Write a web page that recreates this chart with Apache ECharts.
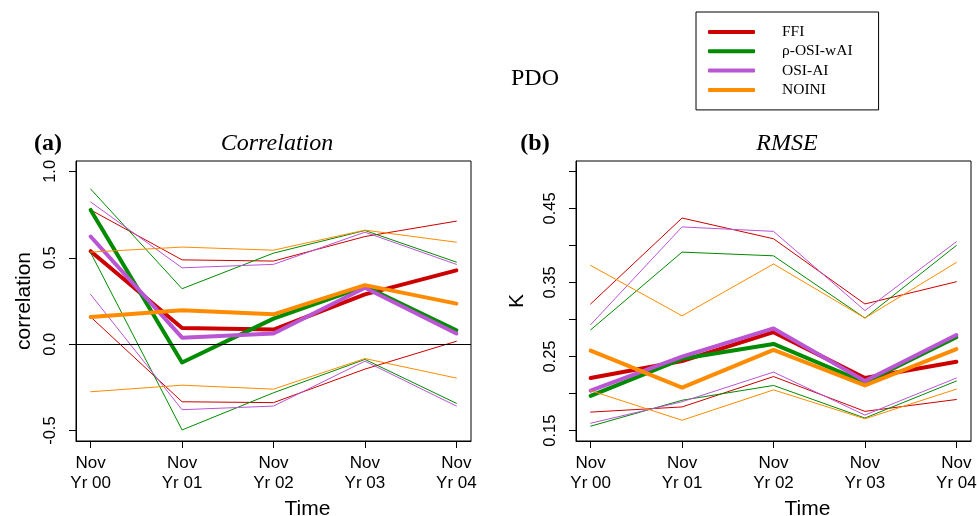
<!DOCTYPE html>
<html>
<head>
<meta charset="utf-8">
<script src="https://cdn.jsdelivr.net/npm/echarts@6/dist/echarts.min.js"></script>
<style>
html,body{margin:0;padding:0;background:#fff;}
#chart{width:977px;height:516px;}
</style>
</head>
<body>
<div id="chart"></div>
<script>
// ---------- data ----------
const categories = ['Nov\nYr 00', 'Nov\nYr 01', 'Nov\nYr 02', 'Nov\nYr 03', 'Nov\nYr 04'];
const modelNames = ['FFI', 'ρ-OSI-wAI', 'OSI-AI', 'NOINI'];
const corrTicks = [-0.5, 0, 0.5, 1.0];
const rmseTicks = [0.15, 0.20, 0.25, 0.30, 0.35, 0.40, 0.45, 0.50];
const rmseTickLabels = [0.15, 0.25, 0.35, 0.45];

// (a) Correlation
const corrFFI      = [0.538, 0.094, 0.085, 0.288, 0.427];
const corrFFIHi    = [0.777, 0.488, 0.481, 0.623, 0.712];
const corrFFILo    = [0.158, -0.333, -0.338, -0.144, 0.017];
const corrRho      = [0.777, -0.106, 0.148, 0.335, 0.081];
const corrRhoHi    = [0.898, 0.321, 0.527, 0.658, 0.475];
const corrRhoLo    = [0.530, -0.496, -0.281, -0.088, -0.342];
const corrOsi      = [0.623, 0.038, 0.062, 0.327, 0.062];
const corrOsiHi    = [0.823, 0.442, 0.462, 0.648, 0.462];
const corrOsiLo    = [0.288, -0.379, -0.358, -0.098, -0.358];
const corrNoini    = [0.158, 0.196, 0.173, 0.342, 0.235];
const corrNoiniHi  = [0.533, 0.562, 0.544, 0.660, 0.590];
const corrNoiniLo  = [-0.275, -0.237, -0.260, -0.083, -0.196];

// (b) RMSE
const rmseFFI      = [0.221, 0.244, 0.283, 0.221, 0.243];
const rmseFFIHi    = [0.321, 0.437, 0.409, 0.321, 0.351];
const rmseFFILo    = [0.175, 0.182, 0.223, 0.176, 0.192];
const rmseRho      = [0.197, 0.247, 0.267, 0.215, 0.276];
const rmseRhoHi    = [0.286, 0.391, 0.386, 0.302, 0.400];
const rmseRhoLo    = [0.156, 0.191, 0.211, 0.167, 0.217];
const rmseOsi      = [0.204, 0.250, 0.288, 0.217, 0.279];
const rmseOsiHi    = [0.293, 0.425, 0.419, 0.312, 0.405];
const rmseOsiLo    = [0.160, 0.189, 0.229, 0.171, 0.221];
const rmseNoini    = [0.258, 0.208, 0.259, 0.211, 0.260];
const rmseNoiniHi  = [0.373, 0.305, 0.375, 0.302, 0.377];
const rmseNoiniLo  = [0.204, 0.164, 0.205, 0.166, 0.206];

// ---------- styling ----------
const colors = ['#CD0000', '#008B00', '#BA55D3', '#FF8C00'];
const SANS = 'Liberation Sans';
const SERIF = 'Liberation Serif';

const corrSets = [
  [corrFFI, corrFFIHi, corrFFILo],
  [corrRho, corrRhoHi, corrRhoLo],
  [corrOsi, corrOsiHi, corrOsiLo],
  [corrNoini, corrNoiniHi, corrNoiniLo]
];
const rmseSets = [
  [rmseFFI, rmseFFIHi, rmseFFILo],
  [rmseRho, rmseRhoHi, rmseRhoLo],
  [rmseOsi, rmseOsiHi, rmseOsiLo],
  [rmseNoini, rmseNoiniHi, rmseNoiniLo]
];

function toPts(arr) { return arr.map((v, i) => [i, v]); }

const series = [];
function addPanel(sets, gi) {
  sets.forEach((trip, m) => {
    trip.forEach((arr, k) => {
      series.push({
        type: 'line',
        name: k === 0 ? modelNames[m] : modelNames[m] + (k === 1 ? ' upper' : ' lower') + gi,
        xAxisIndex: gi, yAxisIndex: gi,
        data: toPts(arr),
        symbol: 'none',
        silent: true,
        animation: false,
        z: 2 + m,
        itemStyle: { color: colors[m] },
        lineStyle: { color: colors[m], width: k === 0 ? 4 : 1, cap: 'round', join: 'round' }
      });
    });
  });
}
addPanel(corrSets, 0);
addPanel(rmseSets, 1);
// zero reference line in panel (a)
series.push({
  type: 'line', name: 'zero', xAxisIndex: 0, yAxisIndex: 0, data: [], symbol: 'none', z: 10,
  animation: false,
  markLine: { silent: true, symbol: 'none', label: { show: false }, animation: false,
    lineStyle: { color: '#000', width: 1, type: 'solid' }, data: [{ yAxis: 0 }] }
});

function xAxisDef(gi) {
  return {
    type: 'value', gridIndex: gi, min: -0.16, max: 4.16,
    axisLine: { show: true, onZero: false, lineStyle: { color: '#000', width: 1 } },
    axisTick: { show: true, length: 7, inside: false, customValues: [0, 1, 2, 3, 4], lineStyle: { color: '#000' } },
    axisLabel: { customValues: [0, 1, 2, 3, 4], formatter: v => categories[Math.round(v)],
      fontFamily: SANS, fontSize: 17, color: '#000', lineHeight: 20.5, margin: 12 },
    splitLine: { show: false },
    name: 'Time', nameLocation: 'middle', nameGap: 57,
    nameTextStyle: { fontFamily: SANS, fontSize: 21, color: '#000', padding: [0, 0, 0, 68] }
  };
}

const option = {
  backgroundColor: '#fff',
  animation: false,
  grid: [
    { left: 76, top: 161, width: 395, height: 280, show: true, borderColor: '#000', borderWidth: 1,
      backgroundColor: 'transparent', containLabel: false, outerBoundsMode: 'none' },
    { left: 576, top: 161, width: 395, height: 280, show: true, borderColor: '#000', borderWidth: 1,
      backgroundColor: 'transparent', containLabel: false, outerBoundsMode: 'none' }
  ],
  xAxis: [xAxisDef(0), xAxisDef(1)],
  yAxis: [
    {
      type: 'value', gridIndex: 0, min: -0.56, max: 1.06,
      axisLine: { show: true, onZero: false, lineStyle: { color: '#000' } },
      axisTick: { show: true, length: 7, customValues: corrTicks, lineStyle: { color: '#000' } },
      axisLabel: { customValues: corrTicks, formatter: v => v.toFixed(1), rotate: 90,
        fontFamily: SANS, fontSize: 16.5, color: '#000', margin: 17 },
      splitLine: { show: false },
      name: 'correlation', nameLocation: 'middle', nameGap: 41,
      nameTextStyle: { fontFamily: SANS, fontSize: 21, color: '#000' }
    },
    {
      type: 'value', gridIndex: 1, min: 0.136, max: 0.514,
      axisLine: { show: true, onZero: false, lineStyle: { color: '#000' } },
      axisTick: { show: true, length: 7, customValues: rmseTicks, lineStyle: { color: '#000' } },
      axisLabel: { customValues: rmseTickLabels, formatter: v => v.toFixed(2), rotate: 90,
        fontFamily: SANS, fontSize: 16.5, color: '#000', margin: 17 },
      splitLine: { show: false },
      name: 'K', nameLocation: 'middle', nameGap: 48,
      nameTextStyle: { fontFamily: SANS, fontSize: 21, color: '#000' }
    }
  ],
  legend: {
    data: modelNames,
    orient: 'vertical',
    left: 696, top: 12,
    padding: [12, 26, 12, 12],
    itemGap: 3.3,
    itemWidth: 47, itemHeight: 4,
    icon: 'roundRect',
    borderColor: '#000', borderWidth: 1, borderRadius: 0,
    selectedMode: false,
    textStyle: { fontFamily: SERIF, fontSize: 15.5, color: '#000', lineHeight: 15, padding: [0, 0, 0, 22] }
  },
  graphic: [
    { type: 'text', x: 535, y: 78.5, style: { text: 'PDO', font: '24px "Liberation Serif"', fill: '#000', align: 'center', verticalAlign: 'middle' } },
    { type: 'text', x: 48, y: 144, style: { text: '(a)', font: 'bold 24px "Liberation Serif"', fill: '#000', align: 'center', verticalAlign: 'middle' } },
    { type: 'text', x: 277, y: 143.6, style: { text: 'Correlation', font: 'italic 24px "Liberation Serif"', fill: '#000', align: 'center', verticalAlign: 'middle' } },
    { type: 'text', x: 535, y: 144, style: { text: '(b)', font: 'bold 24px "Liberation Serif"', fill: '#000', align: 'center', verticalAlign: 'middle' } },
    { type: 'text', x: 787, y: 143.6, style: { text: 'RMSE', font: 'italic 24px "Liberation Serif"', fill: '#000', align: 'center', verticalAlign: 'middle' } }
  ],
  series: series
};

const chart = echarts.init(document.getElementById('chart'), null, { renderer: 'canvas' });
chart.setOption(option);
</script>
</body>
</html>
